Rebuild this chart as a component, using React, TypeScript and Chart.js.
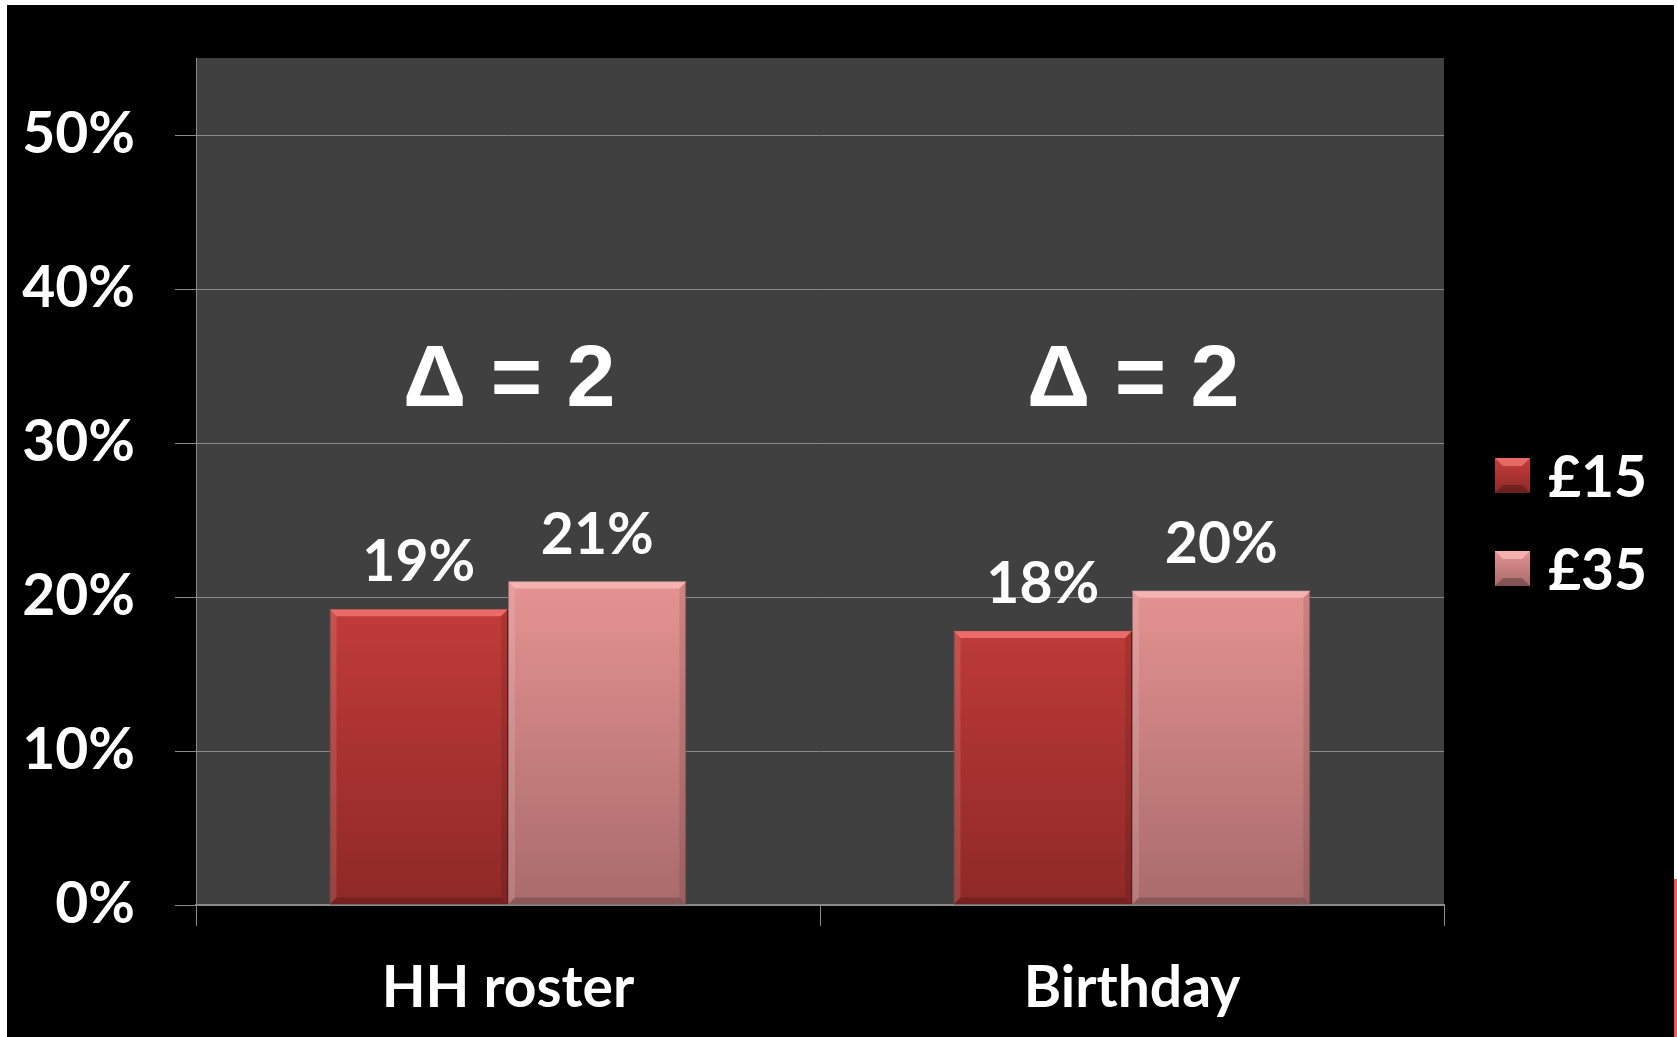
import React, { useEffect, useRef } from 'react';
import { Chart, registerables } from 'chart.js';

Chart.register(...registerables);

const categories = ['HH roster', 'Birthday'];
const seriesLabels = ['£15', '£35'];
const values15 = [19.2, 17.8];
const values35 = [21.0, 20.4];
const valueLabels15 = ['19%', '18%'];
const valueLabels35 = ['21%', '20%'];
const deltaLabels = ['Δ = 2', 'Δ = 2'];
const deltaLevel = 32.4;
const yTicks = [0, 10, 20, 30, 40, 50];
const yMin = 0;
const yMax = 55;

const FONT = 'Lato';
const GRID = '#8a8a8a';

const palette = [
  { top: '#c63d3b', bottom: '#8e2927', bevel: '#f27472', dark: '#6e1c1b' },
  { top: '#e59392', bottom: '#a96b6b', bevel: '#f8b9b7', dark: '#8a5555' },
];

function gradientFor(chart: any, idx: number) {
  const area = chart.chartArea;
  const y = chart.scales && chart.scales.y;
  if (!area || !y) return palette[idx].top;
  const g = chart.ctx.createLinearGradient(0, y.getPixelForValue(21), 0, y.getPixelForValue(0));
  g.addColorStop(0, palette[idx].top);
  g.addColorStop(1, palette[idx].bottom);
  return g;
}

const framePlugin = {
  id: 'frame',
  beforeDraw(chart: any) {
    const { ctx, width, height, chartArea } = chart;
    ctx.save();
    ctx.fillStyle = '#ffffff';
    ctx.fillRect(0, 0, width, height);
    ctx.fillStyle = '#000000';
    ctx.fillRect(7, 5, width - 10, height - 5);
    ctx.fillStyle = '#f25a5a';
    ctx.fillRect(width - 3, 879, 3, height - 879);
    ctx.fillStyle = '#404040';
    ctx.fillRect(chartArea.left, chartArea.top, chartArea.right - chartArea.left, chartArea.bottom - chartArea.top);
    ctx.restore();
  },
};

const barDecorPlugin = {
  id: 'barDecor',
  afterDatasetsDraw(chart: any) {
    const { ctx } = chart;
    const labelSets = [valueLabels15, valueLabels35];
    chart.data.datasets.forEach((ds: any, di: number) => {
      const meta = chart.getDatasetMeta(di);
      meta.data.forEach((bar: any, i: number) => {
        const left = bar.x - bar.width / 2;
        const right = bar.x + bar.width / 2;
        const top = bar.y;
        const bottom = bar.base;
        const b = 7;
        ctx.save();
        ctx.beginPath();
        ctx.moveTo(left, top);
        ctx.lineTo(right, top);
        ctx.lineTo(right - b, top + b);
        ctx.lineTo(left + b, top + b);
        ctx.closePath();
        ctx.fillStyle = palette[di].bevel;
        ctx.globalAlpha = 0.85;
        ctx.fill();
        ctx.globalAlpha = 0.12;
        ctx.beginPath();
        ctx.moveTo(left, top);
        ctx.lineTo(left + b, top + b);
        ctx.lineTo(left + b, bottom - b);
        ctx.lineTo(left, bottom);
        ctx.closePath();
        ctx.fillStyle = '#ffffff';
        ctx.fill();
        ctx.beginPath();
        ctx.moveTo(right, top);
        ctx.lineTo(right - b, top + b);
        ctx.lineTo(right - b, bottom - b);
        ctx.lineTo(right, bottom);
        ctx.closePath();
        ctx.fillStyle = '#000000';
        ctx.globalAlpha = 0.1;
        ctx.fill();
        ctx.beginPath();
        ctx.moveTo(left, bottom);
        ctx.lineTo(left + b, bottom - b);
        ctx.lineTo(right - b, bottom - b);
        ctx.lineTo(right, bottom);
        ctx.closePath();
        ctx.globalAlpha = 0.18;
        ctx.fill();
        ctx.restore();

        ctx.save();
        ctx.fillStyle = '#ffffff';
        ctx.font = `bold 57px ${FONT}`;
        ctx.textAlign = 'center';
        ctx.textBaseline = 'alphabetic';
        ctx.fillText(labelSets[di][i], bar.x, top - 28);
        ctx.restore();
      });
    });

    const xs = chart.scales.x;
    const ys = chart.scales.y;
    ctx.save();
    ctx.fillStyle = '#ffffff';
    ctx.font = `bold 88px "Liberation Sans"`;
    ctx.textAlign = 'left';
    ctx.textBaseline = 'alphabetic';
    deltaLabels.forEach((t, i) => {
      ctx.fillText(t, xs.getPixelForValue(i) - 105, ys.getPixelForValue(deltaLevel));
    });
    ctx.restore();
  },
  afterDraw(chart: any) {
    const { ctx, chartArea } = chart;
    const x0 = chartArea.right + 51;
    const top0 = 458;
    const gap = 93;
    const s = 35;
    chart.data.datasets.forEach((ds: any, di: number) => {
      const y0 = top0 + gap * di;
      ctx.save();
      const g = ctx.createLinearGradient(0, y0, 0, y0 + s);
      g.addColorStop(0, palette[di].top);
      g.addColorStop(1, palette[di].bottom);
      ctx.fillStyle = g;
      ctx.fillRect(x0, y0, s, s);
      const b = 8;
      ctx.globalAlpha = 0.8;
      ctx.fillStyle = palette[di].bevel;
      ctx.beginPath();
      ctx.moveTo(x0, y0);
      ctx.lineTo(x0 + s, y0);
      ctx.lineTo(x0 + s - b, y0 + b);
      ctx.lineTo(x0 + b, y0 + b);
      ctx.closePath();
      ctx.fill();
      ctx.globalAlpha = 0.25;
      ctx.fillStyle = '#000000';
      ctx.beginPath();
      ctx.moveTo(x0, y0 + s);
      ctx.lineTo(x0 + s, y0 + s);
      ctx.lineTo(x0 + s - b, y0 + s - b);
      ctx.lineTo(x0 + b, y0 + s - b);
      ctx.closePath();
      ctx.fill();
      ctx.globalAlpha = 1;
      ctx.fillStyle = '#ffffff';
      ctx.font = `bold 57px ${FONT}`;
      ctx.textAlign = 'left';
      ctx.textBaseline = 'alphabetic';
      ctx.fillText(ds.label, x0 + s + 18, y0 + 39);
      ctx.restore();
    });
  },
};

export default function App() {
  const ref = useRef<HTMLCanvasElement | null>(null);
  useEffect(() => {
    if (!ref.current) return;
    const chart = new Chart(ref.current, {
      type: 'bar',
      data: {
        labels: categories,
        datasets: [
          {
            label: seriesLabels[0],
            data: values15,
            backgroundColor: (c: any) => gradientFor(c.chart, 0),
            borderColor: palette[0].dark,
            borderWidth: 1,
            categoryPercentage: 0.572,
            barPercentage: 1.0,
          },
          {
            label: seriesLabels[1],
            data: values35,
            backgroundColor: (c: any) => gradientFor(c.chart, 1),
            borderColor: palette[1].dark,
            borderWidth: 1,
            categoryPercentage: 0.572,
            barPercentage: 1.0,
          },
        ],
      },
      options: {
        responsive: false,
        animation: false,
        devicePixelRatio: 1,
        layout: { padding: { left: 0, top: 58, right: 233, bottom: 0 } },
        plugins: {
          legend: { display: false },
          tooltip: { enabled: false },
          title: { display: false },
        },
        scales: {
          x: {
            offset: true,
            grid: {
              display: true,
              offset: true,
              drawOnChartArea: false,
              drawTicks: true,
              tickLength: 21,
              color: GRID,
              lineWidth: 1,
            },
            border: { display: true, color: GRID, width: 2 },
            ticks: {
              color: '#ffffff',
              font: { family: FONT, weight: 'bold', size: 57 },
              padding: 28,
            },
            afterFit: (s: any) => {
              s.height = 132;
              s.paddingLeft = 0;
              s.paddingRight = 0;
            },
          },
          y: {
            min: yMin,
            max: yMax,
            afterBuildTicks: (s: any) => {
              s.ticks = yTicks.map((v) => ({ value: v }));
            },
            grid: { color: GRID, tickLength: 21, lineWidth: 1 },
            border: { display: true, color: GRID, width: 1 },
            ticks: {
              color: '#ffffff',
              font: { family: FONT, weight: 'bold', size: 57 },
              padding: 40,
              callback: (v: any) => `${v}%`,
            },
            afterFit: (s: any) => {
              s.width = 196;
              s.paddingTop = 0;
              s.paddingBottom = 0;
            },
          },
        },
      },
      plugins: [framePlugin, barDecorPlugin],
    });
    return () => chart.destroy();
  }, []);
  return (
    <div style={{ position: 'fixed', left: 0, top: 0, width: 1677, height: 1037 }}>
      <canvas ref={ref} width={1677} height={1037} />
    </div>
  );
}
